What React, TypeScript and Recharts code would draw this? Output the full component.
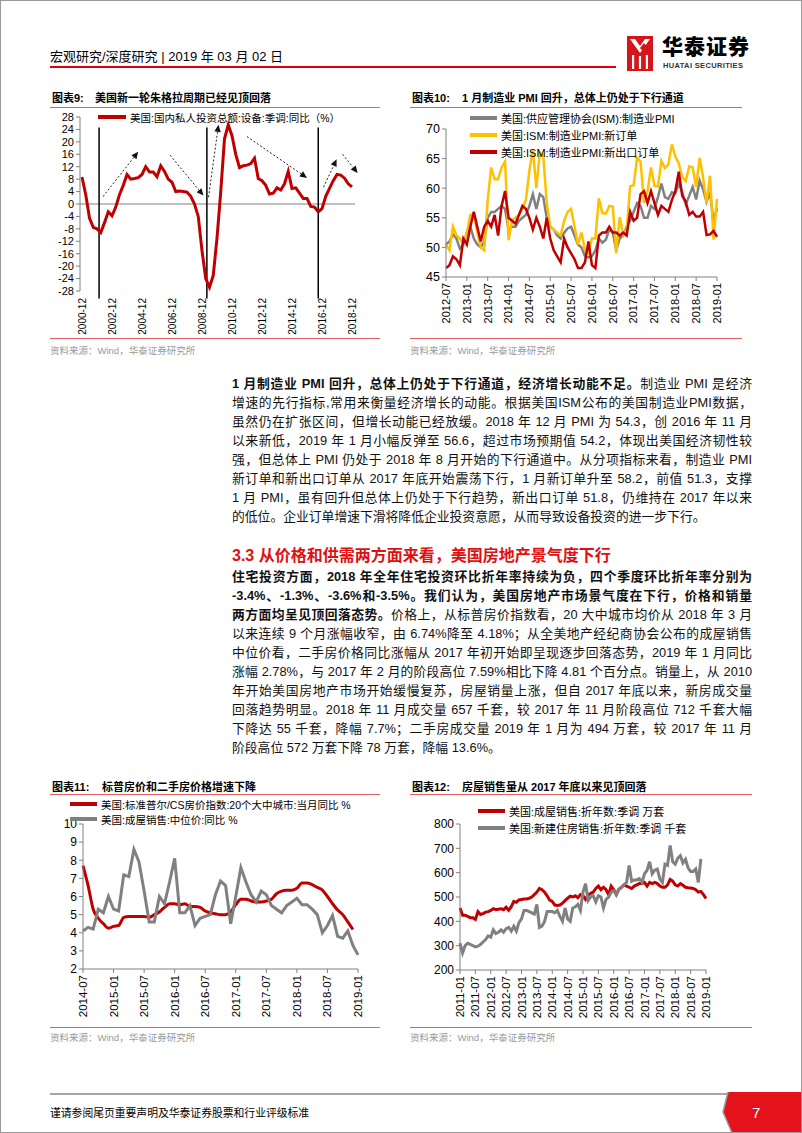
import React from 'react'
import { LineChart, Line, XAxis, YAxis, ReferenceLine } from 'recharts'

const RED = '#C00000'
const GRAY = '#808080'
const YELLOW = '#FFC000'
const AXIS = '#808080'
const NUM_FONT = '"Liberation Sans", Arial, "Noto Sans CJK SC", sans-serif'
const TEXT_FONT = '"Liberation Sans", Arial, "Noto Sans CJK SC", sans-serif'

// month labels like 2012-07, step in months
function monthLabels(year: number, month: number, count: number, step = 1): string[] {
  const out: string[] = []
  for (let k = 0; k < count; k++) {
    const m = month - 1 + k * step
    const y = year + Math.floor(m / 12)
    out.push(`${y}-${String((m % 12) + 1).padStart(2, '0')}`)
  }
  return out
}

// ---------- 图表9 ----------
const quarters9 = monthLabels(2000, 12, 73, 3)
const equipmentYoy = [
  8.7, 3, -4.5, -7.5, -8, -9.2, -6, -2.5, -3.8, -1, 3, 6, 9.5, 8, 8.2, 8.5, 9.5, 12, 10.3, 10.3,
  8.8, 12.3, 10.5, 8, 7, 4, 4.2, 4, 3.8, 2.5, 0, -4, -15, -24, -26.8, -23, -11, 4, 21, 25.5,
  22, 16, 11.7, 12.3, 12.5, 13, 14.7, 8.2, 7.5, 6, 3.2, 3.5, 5.2, 4.5, 6.5, 10.5, 5, 5.2, 3.5, 1.8,
  1.8, -0.8, -1, -2.5, -1.5, 2.5, 5, 7.5, 9.5, 9.3, 8.3, 6.5, 5.5,
]
const xTicks9 = [0, 8, 16, 24, 32, 40, 48, 56, 64, 72]
const yTicks9 = [-28, -24, -20, -16, -12, -8, -4, 0, 4, 8, 12, 16, 20, 24, 28]
const cycleLines = [4.55, 33.3, 63] // 周期分界（季度序号）
// [x1, y1, x2, y2] 趋势箭头
const trendArrows = [
  [5.6, 2.4, 15, 16.8],
  [23.5, 15.7, 32.4, 2.7],
  [33.75, 2.2, 36.4, 25.5],
  [44, 21.7, 60, 8.4],
  [64.4, 5.4, 67.9, 14.4],
  [69.5, 16, 73.5, 10],
]
const data9 = equipmentYoy.map((v, i) => ({ i, v }))

// ---------- 图表10 ----------
const months10 = monthLabels(2012, 7, 79)
const ismPmi = [
  50.5, 51, 52.2, 51.5, 49.8, 50.5,
  52.5, 53.5, 51.5, 50.5, 50, 51, 55, 56, 56, 56.5, 57, 56.5,
  53, 53.5, 53.5, 54.5, 55, 55.5, 57, 59, 56.5, 59, 58.5, 55,
  53.5, 53, 52, 51.5, 52.5, 53.2, 53.5, 52, 50.5, 50, 48.5, 48.3,
  48.5, 49.5, 51.5, 50.8, 51.3, 53, 52.5, 49.5, 51.5, 52, 53.5, 54.5,
  56, 57.5, 57, 55, 55, 57, 56.5, 58.5, 60.8, 58.5, 58.2, 59.3,
  59.1, 60.8, 59.3, 57.3, 58.7, 60.2, 58.1, 61.3, 59.8, 57.7, 59.3, 54.3,
  56.6,
]
const ismNewOrders = [
  50.5, 49.5, 53.5, 52, 51.5, 50.5,
  52.5, 55.5, 55.5, 52.5, 50, 49.5, 58, 63.5, 61.5, 61.5, 63.5, 64.5,
  51.2, 54.5, 55, 55.5, 56.5, 58, 63, 66.5, 60, 66, 65.5, 57.5,
  53.5, 53, 52.5, 52, 54.5, 56, 56.5, 53.5, 50.5, 52.5, 49.5, 49,
  51.5, 51.5, 58.3, 55.8, 55.7, 57, 56.9, 49, 55.1, 52.1, 53, 60.3,
  60.5, 65.1, 64.5, 57.5, 59.5, 63.5, 60.4, 60.3, 64.6, 63.4, 64, 67.4,
  65.4, 64.2, 61.9, 61.2, 63.7, 63.5, 60.2, 65.1, 61.8, 57.4, 62.1, 51.3,
  58.2,
]
const ismExportOrders = [
  46.5, 47, 48.5, 48, 47, 51.5,
  50.5, 53.5, 56, 53.5, 51, 53.5, 54.5, 53.5, 55.5, 52, 57, 59.5,
  55, 54.5, 54, 55.5, 57, 56.5, 55, 53, 55, 53.5, 51.5, 55,
  51.5, 49.5, 48.5, 47.5, 51.5, 50, 49, 48, 46.5, 46.5, 47.5, 51,
  47, 46.5, 52, 52.5, 52.5, 53.5, 52.5, 52.5, 52, 52.5, 52, 56,
  54.5, 55, 59, 59.5, 57.5, 59.5, 57.5, 55.5, 57, 56.5, 56, 58,
  59.5, 62.8, 58.7, 57.7, 55.5, 56, 55.2, 55.2, 56, 52.1, 52.2, 52.8,
  51.8,
]
const yTicks10 = [45, 50, 55, 60, 65, 70]
const data10 = months10.map((m, k) => ({ m, pmi: ismPmi[k], no: ismNewOrders[k], ex: ismExportOrders[k] }))

// ---------- 图表11 ----------
const months11 = monthLabels(2014, 7, 55)
const csIndexYoy = [
  7.7, 6.6, 5.3, 4.8, 4.5, 4.25,
  4.35, 4.4, 4.85, 4.9, 4.9, 4.9, 4.9, 4.85, 5.0, 5.15, 5.4, 5.6,
  5.6, 5.55, 5.6, 5.45, 5.45, 5.4, 5.2, 5.1, 5.05, 5.0, 5.0, 5.15,
  5.55, 5.85, 5.85, 5.75, 5.7, 5.7, 5.75, 5.85, 6.15, 6.3, 6.35, 6.35,
  6.45, 6.75, 6.75, 6.65, 6.5, 6.35, 6.0, 5.6, 5.25, 5.0, 4.6, 4.18,
  null,
]
const medianPriceYoy = [
  4.1, 4.3, 4.2, 5.3, 5.1, 6.0,
  5.3, 5.2, 7.2, 7.1, 8.6, 7.9, 6.3, 4.6, 4.6, 6.0, 5.6, 6.8,
  8.1, 5.1, 5.1, 5.5, 4.4, 4.8, 4.9, 5.0, 6.1, 6.85, 6.6, 4.5,
  6.0, 7.59, 6.8, 6.1, 5.7, 6.3, 6.1, 5.5, 5.3, 5.1, 5.5, 5.7,
  5.9, 5.55, 5.55, 5.3, 5.0, 4.0, 4.4, 4.95, 3.8, 3.7, 4.1, 3.3,
  2.78,
]
const yTicks11 = [2, 3, 4, 5, 6, 7, 8, 9, 10]
const data11 = months11.map((m, k) => ({ m, cs: csIndexYoy[k], med: medianPriceYoy[k] }))

// ---------- 图表12 ----------
const months12 = monthLabels(2011, 1, 97)
const existingSales = [
  455, 425, 425, 420, 415, 415, 408, 440, 428, 432, 438, 440,
  445, 452, 448, 450, 452, 448, 458, 445, 460, 482, 478, 488,
  490, 492, 492, 495, 500, 510, 520, 535, 530, 520, 505, 487,
  482, 467, 465, 467, 475, 485, 495, 503, 500, 505, 497, 510,
  505, 490, 508, 515, 520, 535, 545, 530, 540, 530, 510, 545,
  530, 510, 532, 540, 550, 545, 540, 535, 545, 550, 555, 555,
  560, 545, 560, 555, 560, 555, 545, 540, 540, 550, 572, 565,
  550, 545, 555, 548, 540, 538, 537, 535, 530, 520, 523, 510,
  494,
]
const newHomeSales = [
  310, 270, 300, 310, 305, 300, 295, 298, 305, 315, 325, 340,
  335, 365, 350, 355, 365, 355, 370, 375, 360, 380, 360, 395,
  410, 445, 445, 440, 435, 430, 470, 375, 380, 400, 440, 440,
  440, 435, 445, 420, 400, 455, 410, 400, 455, 460, 470, 445,
  520, 555, 485, 500, 505, 480, 505, 500, 455, 490, 500, 520,
  525, 510, 530, 540, 550, 560, 630, 565, 570, 570, 575, 560,
  595, 610, 645, 595, 610, 615, 575, 560, 635, 630, 712, 645,
  635, 660, 670, 640, 655, 620, 605, 605, 615, 560, 657,
  null, null,
]
const yTicks12 = [200, 300, 400, 500, 600, 700, 800]
const data12 = months12.map((m, k) => ({ m, ex: existingSales[k], nw: newHomeSales[k] }))

// ---------- 正文 ----------
type Seg = [string, boolean]
const para1: Seg[][] = [
  [['1 月制造业 PMI 回升，总体上仍处于下行通道，经济增长动能不足。', true], ['制造业 PMI 是经济', false]],
  [['增速的先行指标,常用来衡量经济增长的动能。根据美国ISM公布的美国制造业PMI数据，', false]],
  [['虽然仍在扩张区间，但增长动能已经放缓。2018 年 12 月 PMI 为 54.3，创 2016 年 11 月', false]],
  [['以来新低，2019 年 1 月小幅反弹至 56.6，超过市场预期值 54.2，体现出美国经济韧性较', false]],
  [['强，但总体上 PMI 仍处于 2018 年 8 月开始的下行通道中。从分项指标来看，制造业 PMI', false]],
  [['新订单和新出口订单从 2017 年底开始震荡下行，1 月新订单升至 58.2，前值 51.3，支撑', false]],
  [['1 月 PMI，虽有回升但总体上仍处于下行趋势，新出口订单 51.8，仍维持在 2017 年以来', false]],
  [['的低位。企业订单增速下滑将降低企业投资意愿，从而导致设备投资的进一步下行。', false]],
]
const para2: Seg[][] = [
  [['住宅投资方面，2018 年全年住宅投资环比折年率持续为负，四个季度环比折年率分别为', true]],
  [['-3.4%、-1.3%、-3.6%和-3.5%。我们认为，美国房地产市场景气度在下行，价格和销量', true]],
  [['两方面均呈见顶回落态势。', true], ['价格上，从标普房价指数看，20 大中城市均价从 2018 年 3 月', false]],
  [['以来连续 9 个月涨幅收窄，由 6.74%降至 4.18%；从全美地产经纪商协会公布的成屋销售', false]],
  [['中位价看，二手房价格同比涨幅从 2017 年初开始即呈现逐步回落态势，2019 年 1 月同比', false]],
  [['涨幅 2.78%，与 2017 年 2 月的阶段高位 7.59%相比下降 4.81 个百分点。销量上，从 2010', false]],
  [['年开始美国房地产市场开始缓慢复苏，房屋销量上涨，但自 2017 年底以来，新房成交量', false]],
  [['回落趋势明显。2018 年 11 月成交量 657 千套，较 2017 年 11 月阶段高位 712 千套大幅', false]],
  [['下降达 55 千套，降幅 7.7%；二手房成交量 2019 年 1 月为 494 万套，较 2017 年 11 月', false]],
  [['阶段高位 572 万套下降 78 万套，降幅 13.6%。', false]],
]

function VTick(props: any) {
  const { x, y, payload, fontSize, format } = props
  const label = format ? format(payload.value) : payload.value
  return (
    <text
      x={x}
      y={y}
      transform={`rotate(-90 ${x} ${y})`}
      textAnchor="end"
      dy="0.35em"
      fontSize={fontSize}
      fill="#000"
      fontFamily={NUM_FONT}
    >
      {label}
    </text>
  )
}

function Arrow(props: any) {
  const { x1, y1, x2, y2 } = props
  const a = Math.atan2(y2 - y1, x2 - x1)
  const L = 7
  const W = 3.2
  const bx = x2 - L * Math.cos(a)
  const by = y2 - L * Math.sin(a)
  const pts = `${x2},${y2} ${bx - W * Math.sin(a)},${by + W * Math.cos(a)} ${bx + W * Math.sin(a)},${by - W * Math.cos(a)}`
  return (
    <g>
      <line x1={x1} y1={y1} x2={bx} y2={by} stroke="#222" strokeWidth={1} strokeDasharray="2 2" />
      <polygon points={pts} fill="#111" />
    </g>
  )
}

function LegendItem({ left, y, color, label, lineW = 27, font = 11 }: any) {
  return (
    <div
      style={{
        position: 'absolute', left, top: y - 8, height: 16, display: 'flex', alignItems: 'center',
        fontSize: font, whiteSpace: 'nowrap', color: '#000',
      }}
    >
      <div style={{ width: lineW, height: 3.5, background: color, marginRight: 4 }} />
      <span>{label}</span>
    </div>
  )
}

function ChartTitle({ x, textX, y, no, text }: any) {
  return (
    <>
      <div style={{ position: 'absolute', left: x, top: y - 8, fontSize: 11, fontWeight: 700, lineHeight: '16px' }}>{no}</div>
      <div style={{ position: 'absolute', left: textX, top: y - 8, fontSize: 11, fontWeight: 700, lineHeight: '16px', whiteSpace: 'nowrap' }}>{text}</div>
    </>
  )
}

function HLine({ x, y, w, color = '#E06060', h = 1 }: any) {
  return <div style={{ position: 'absolute', left: x, top: y, width: w, height: h, background: color }} />
}

function Source({ x, y }: any) {
  return (
    <div style={{ position: 'absolute', left: x, top: y - 7, fontSize: 9.5, color: '#9a9a9a', lineHeight: '14px' }}>
      资料来源：Wind，华泰证券研究所
    </div>
  )
}

function TextLines({ lines, top, last }: { lines: Seg[][]; top: number; last: boolean }) {
  return (
    <>
      {lines.map((segs, k) => {
        const isLast = last && k === lines.length - 1
        return (
          <div
            key={k}
            style={{
              position: 'absolute', left: 232, top: top + k * 19 - 10, width: 520, height: 20,
              lineHeight: '20px', fontSize: 12.8, color: '#111',
              textAlign: 'justify', textAlignLast: isLast ? 'left' : 'justify',
            } as React.CSSProperties}
          >
            {segs.map(([t, b], j) => (
              <span key={j} style={{ fontWeight: b ? 700 : 400 }}>{t}</span>
            ))}
          </div>
        )
      })}
    </>
  )
}

function Logo() {
  return (
    <svg style={{ position: 'absolute', left: 627, top: 36 }} width={26} height={35}>
      <rect x={0} y={0} width={26} height={35} fill="#D7141A" />
      <polygon points="3,3 8,3 13,10 18,3 23,3 13,17" fill="#fff" />
      <polygon points="13,12 17,7 21,12 17,17" fill="#D7141A" />
      <rect x={5} y={19} width={2.2} height={14} fill="#fff" />
      <rect x={11.9} y={20} width={2.2} height={13} fill="#fff" />
      <rect x={18.8} y={19} width={2.2} height={14} fill="#fff" />
    </svg>
  )
}

export default function App() {
  return (
    <div
      style={{
        position: 'absolute', left: 0, top: 0, width: 802, height: 1133, background: '#fff',
        overflow: 'hidden', fontFamily: TEXT_FONT,
      }}
    >
      {/* 页眉 */}
      <div style={{ position: 'absolute', left: 50, top: 48, fontSize: 13, lineHeight: '18px', whiteSpace: 'nowrap' }}>
        宏观研究/深度研究 | 2019 年 03 月 02 日
      </div>
      <HLine x={50} y={66} w={566} color="#E00000" h={1.5} />
      <Logo />
      <div style={{ position: 'absolute', left: 662, top: 34, fontSize: 21, fontWeight: 900, lineHeight: '26px', letterSpacing: 1 }}>
        华泰证券
      </div>
      <div style={{ position: 'absolute', left: 663, top: 61, fontSize: 7.5, fontWeight: 700, lineHeight: '9px', color: '#333', letterSpacing: 0.35 }}>
        HUATAI SECURITIES
      </div>

      {/* 图表9 */}
      <ChartTitle x={52} textX={95} y={98} no="图表9:" text="美国新一轮朱格拉周期已经见顶回落" />
      <HLine x={50} y={107} w={330} />
      <div style={{ position: 'absolute', left: 40, top: 108 }}>
        <LineChart width={330} height={240} data={data9} margin={{ top: 9, right: 15, bottom: 12, left: 10 }}>
          <XAxis
            type="number"
            dataKey="i"
            domain={[0, 72]}
            ticks={xTicks9}
            padding={{ left: 2, right: 3 }}
            axisLine={false}
            tickLine={false}
            tickSize={0}
            tickMargin={7}
            height={45}
            interval={0}
            tick={(p: any) => <VTick {...p} fontSize={10} format={(i: number) => quarters9[i]} />}
          />
          <YAxis
            domain={[-28, 28]}
            ticks={yTicks9}
            interval={0}
            width={30}
            stroke={AXIS}
            tickSize={4}
            tickMargin={2}
            tick={{ fontSize: 11, fill: '#000', fontFamily: NUM_FONT }}
          />
          <ReferenceLine y={0} stroke={AXIS} strokeWidth={1} />
          {cycleLines.map((x) => (
            <ReferenceLine
              key={x}
              segment={[{ x, y: 24.6 }, { x, y: -30.4 }]}
              stroke="#000"
              strokeWidth={1.5}
              ifOverflow="visible"
            />
          ))}
          {trendArrows.map(([xa, ya, xb, yb], k) => (
            <ReferenceLine
              key={'a' + k}
              segment={[{ x: xa, y: ya }, { x: xb, y: yb }]}
              ifOverflow="visible"
              shape={Arrow}
            />
          ))}
          <Line type="linear" dataKey="v" stroke={RED} strokeWidth={3} dot={false} isAnimationActive={false} />
        </LineChart>
      </div>
      <LegendItem left={98} y={117} color={RED} label="美国:国内私人投资总额:设备:季调:同比（%）" lineW={28} font={10.5} />
      <HLine x={50} y={338} w={330} />
      <Source x={50} y={351} />

      {/* 图表10 */}
      <ChartTitle x={412} textX={462} y={98} no="图表10:" text="1 月制造业 PMI 回升，总体上仍处于下行通道" />
      <HLine x={410} y={107} w={332} />
      <div style={{ position: 'absolute', left: 400, top: 108 }}>
        <LineChart width={360} height={240} data={data10} margin={{ top: 21, right: 43, bottom: 16, left: 16 }}>
          <XAxis
            dataKey="m"
            interval={5}
            stroke={AXIS}
            tickSize={4}
            tickMargin={2}
            height={55}
            tick={(p: any) => <VTick {...p} fontSize={11} />}
          />
          <YAxis
            domain={[45, 70]}
            ticks={yTicks10}
            interval={0}
            width={30}
            stroke={AXIS}
            tickSize={4}
            tickMargin={2}
            tick={{ fontSize: 12.5, fill: '#000', fontFamily: NUM_FONT }}
          />
          <Line type="linear" dataKey="pmi" stroke={GRAY} strokeWidth={2.5} dot={false} isAnimationActive={false} />
          <Line type="linear" dataKey="no" stroke={YELLOW} strokeWidth={2.5} dot={false} isAnimationActive={false} />
          <Line type="linear" dataKey="ex" stroke={RED} strokeWidth={2.5} dot={false} isAnimationActive={false} />
        </LineChart>
      </div>
      <LegendItem left={470} y={118} color={GRAY} label="美国:供应管理协会(ISM):制造业PMI" font={11} />
      <LegendItem left={470} y={135} color={YELLOW} label="美国:ISM:制造业PMI:新订单" font={11} />
      <LegendItem left={470} y={152} color={RED} label="美国:ISM:制造业PMI:新出口订单" font={11} />
      <HLine x={410} y={338} w={332} />
      <Source x={410} y={351} />

      {/* 正文一 */}
      <TextLines lines={para1} top={384} last />

      <div style={{ position: 'absolute', left: 232, top: 546, fontSize: 16, fontWeight: 700, color: '#E01010', lineHeight: '20px', whiteSpace: 'nowrap' }}>
        3.3 从价格和供需两方面来看，美国房地产景气度下行
      </div>
      <TextLines lines={para2} top={577} last />

      {/* 图表11 */}
      <ChartTitle x={52} textX={102} y={787} no="图表11:" text="标普房价和二手房价格增速下降" />
      <HLine x={50} y={794} w={330} />
      <div style={{ position: 'absolute', left: 40, top: 795 }}>
        <LineChart width={340} height={230} data={data11} margin={{ top: 29, right: 22, bottom: 10, left: 13 }}>
          <XAxis
            dataKey="m"
            interval={5}
            stroke={AXIS}
            tickSize={4}
            tickMargin={2}
            height={46}
            tick={(p: any) => <VTick {...p} fontSize={11.5} />}
          />
          <YAxis
            domain={[2, 10]}
            ticks={yTicks11}
            interval={0}
            width={30}
            stroke={AXIS}
            tickSize={4}
            tickMargin={2}
            tick={{ fontSize: 12, fill: '#000', fontFamily: NUM_FONT }}
          />
          <Line type="monotone" dataKey="cs" stroke={RED} strokeWidth={3} dot={false} isAnimationActive={false} />
          <Line type="linear" dataKey="med" stroke={GRAY} strokeWidth={3} dot={false} isAnimationActive={false} />
        </LineChart>
      </div>
      <LegendItem left={70} y={804} color={RED} label="美国:标准普尔/CS房价指数:20个大中城市:当月同比 %" font={10.5} />
      <LegendItem left={70} y={819} color={GRAY} label="美国:成屋销售:中位价:同比 %" font={10.5} />
      <HLine x={50} y={1027} w={330} />
      <Source x={50} y={1038} />

      {/* 图表12 */}
      <ChartTitle x={412} textX={462} y={787} no="图表12:" text="房屋销售量从 2017 年底以来见顶回落" />
      <HLine x={410} y={794} w={342} />
      <div style={{ position: 'absolute', left: 400, top: 795 }}>
        <LineChart width={360} height={230} data={data12} margin={{ top: 29, right: 54, bottom: 10, left: 20 }}>
          <XAxis
            dataKey="m"
            interval={5}
            stroke={AXIS}
            tickSize={4}
            tickMargin={2}
            height={45}
            tick={(p: any) => <VTick {...p} fontSize={11.5} />}
          />
          <YAxis
            domain={[200, 800]}
            ticks={yTicks12}
            interval={0}
            width={40}
            stroke={AXIS}
            tickSize={4}
            tickMargin={2}
            tick={{ fontSize: 12, fill: '#000', fontFamily: NUM_FONT }}
          />
          <Line type="linear" dataKey="ex" stroke={RED} strokeWidth={3} dot={false} isAnimationActive={false} />
          <Line type="linear" dataKey="nw" stroke={GRAY} strokeWidth={3} dot={false} isAnimationActive={false} />
        </LineChart>
      </div>
      <LegendItem left={478} y={811} color={RED} label="美国:成屋销售:折年数:季调 万套" font={11} />
      <LegendItem left={478} y={828} color={GRAY} label="美国:新建住房销售:折年数:季调 千套" font={11} />
      <HLine x={410} y={1027} w={342} />
      <Source x={410} y={1038} />

      {/* 页脚 */}
      <HLine x={50} y={1093} w={680} color="#A6A6A6" h={2} />
      <svg style={{ position: 'absolute', left: 715, top: 1090 }} width={87} height={43}>
        <polygon points="13,2 87,2 87,43 17,43 8,22" fill="#E3121B" />
        <polyline points="13,2 8,22 17,43" fill="none" stroke="#9a9a9a" strokeWidth={1.5} />
      </svg>
      <div style={{ position: 'absolute', left: 752, top: 1103, fontSize: 15, color: '#fff', lineHeight: '20px' }}>7</div>
      <div style={{ position: 'absolute', left: 50, top: 1105, fontSize: 10.8, lineHeight: '16px', whiteSpace: 'nowrap' }}>
        谨请参阅尾页重要声明及华泰证券股票和行业评级标准
      </div>

      {/* 页框 */}
      <div style={{ position: 'absolute', left: 0, top: 0, width: 802, height: 1133, boxSizing: 'border-box', border: '1px solid #9a9a9a', pointerEvents: 'none' }} />
    </div>
  )
}
